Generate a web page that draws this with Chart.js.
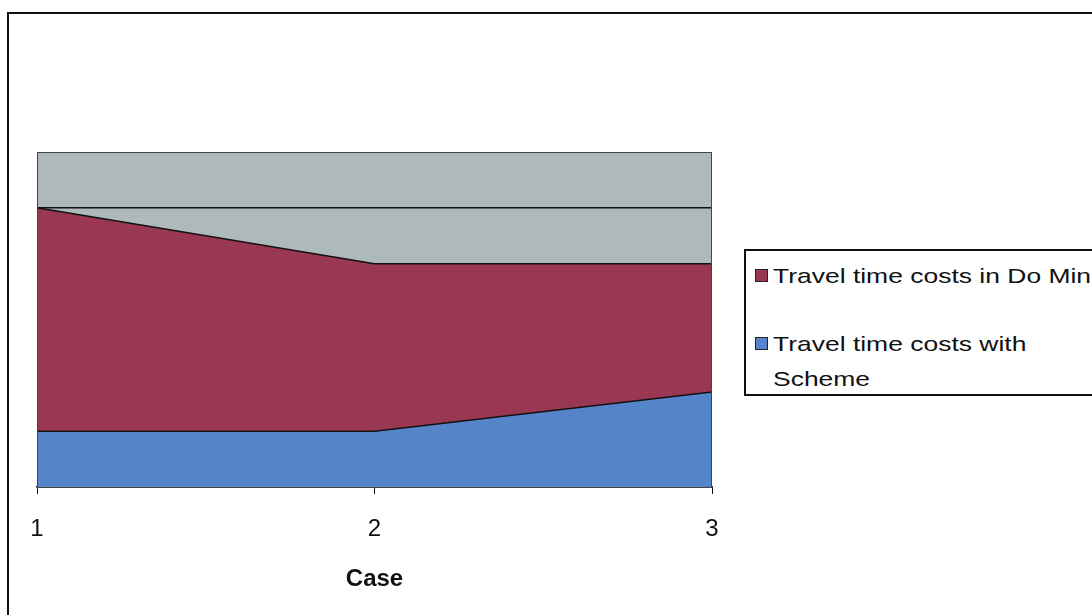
<!DOCTYPE html>
<html>
<head>
<meta charset="utf-8">
<script src="https://cdn.jsdelivr.net/npm/chart.js@4/dist/chart.umd.min.js"></script>
<style>
  html, body { margin: 0; padding: 0; background: #ffffff; }
  #wrap { position: relative; width: 1092px; height: 615px; overflow: hidden; }
  #frame { position: absolute; left: 7px; top: 12px; width: 1110px; height: 620px;
           border: 2px solid #111; box-sizing: border-box; }
  canvas { position: absolute; left: 0; top: 0; }
  #legend { position: absolute; left: 744px; top: 249px; width: 400px; height: 147px;
            border: 2px solid #111; box-sizing: border-box; background: #fff;
            font-family: "Liberation Sans", Arial, sans-serif; font-size: 21px; color: #111; }
  .item { position: absolute; left: 9px; }
  .swatch { position: absolute; left: 0; width: 11px; height: 11px; border: 1.5px solid #222; }
  .txt { position: absolute; left: 18px; white-space: nowrap; line-height: 35px;
         transform: scaleX(1.26); transform-origin: left center; }
</style>
</head>
<body>
<div id="wrap">
  <div id="frame"></div>
  <canvas id="c" width="1092" height="615"></canvas>
  <div id="legend"></div>
</div>
<script>
// Categories and series values
const cases = ['1', '2', '3'];
const withScheme = [1.0, 1.0, 1.7];   // Travel time costs with Scheme
const doMinExtra = [4.0, 3.0, 2.3];   // Travel time costs in Do Min (stacked on top)
const seriesNames = ['Travel time costs in Do Min', 'Travel time costs with Scheme'];
const axisTitle = 'Case';

const colors = { grey: '#adb9ba', red: '#9a3752', blue: '#5584c9' };

// Grey plot background and thin frame round the plot area
const plotFrame = {
  id: 'plotFrame',
  beforeDraw(chart) {
    const { ctx, chartArea: a } = chart;
    ctx.save();
    ctx.fillStyle = colors.grey;
    ctx.fillRect(a.left, a.top, a.right - a.left, a.bottom - a.top);
    ctx.restore();
  },
  afterDatasetsDraw(chart) {
    const { ctx, chartArea: a } = chart;
    ctx.save();
    ctx.strokeStyle = '#444';
    ctx.lineWidth = 1;
    ctx.strokeRect(a.left + 0.5, a.top + 0.5, a.right - a.left - 1, a.bottom - a.top);
    ctx.restore();
  }
};

const chart = new Chart(document.getElementById('c'), {
  type: 'line',
  data: {
    labels: cases,
    datasets: [
      { label: seriesNames[1], data: withScheme, backgroundColor: colors.blue,
        borderColor: '#111', borderWidth: 1.5, fill: 'origin', pointRadius: 0, tension: 0 },
      { label: seriesNames[0], data: doMinExtra, backgroundColor: colors.red,
        borderColor: '#111', borderWidth: 1.5, fill: '-1', pointRadius: 0, tension: 0 }
    ]
  },
  options: {
    responsive: false,
    animation: false,
    layout: { padding: { left: 37, right: 380, top: 152, bottom: 0 } },
    plugins: { legend: { display: false }, tooltip: { enabled: false } },
    scales: {
      x: {
        offset: false,
        grid: { drawOnChartArea: false, drawTicks: true, tickLength: 7, color: '#111' },
        border: { display: true, color: '#111', width: 1.5 },
        ticks: { color: '#111', padding: 21, maxRotation: 0,
                 font: { family: 'Liberation Sans', size: 24 } },
        title: { display: true, text: axisTitle, color: '#111',
                 font: { family: 'Liberation Sans', size: 24, weight: 'bold' },
                 padding: { top: 0, bottom: 21 } },
        afterFit(s) { s.height = 128; }
      },
      y: {
        stacked: true,
        min: 0, max: 6,
        ticks: { display: false, stepSize: 1 },
        grid: { drawTicks: false, lineWidth: 1.5,
                color: c => (c.tick && c.tick.value === 5) ? '#111' : 'rgba(0,0,0,0)' },
        border: { display: false },
        afterFit(s) { s.width = 0; }
      }
    }
  },
  plugins: [plotFrame]
});

// Legend box at the right of the plot
const legend = document.getElementById('legend');
const entries = [
  { color: colors.red, top: 7, lines: [seriesNames[0]] },
  { color: colors.blue, top: 75, lines: ['Travel time costs with', 'Scheme'] }
];
entries.forEach(e => {
  const item = document.createElement('div');
  item.className = 'item';
  item.style.top = e.top + 'px';
  const sw = document.createElement('div');
  sw.className = 'swatch';
  sw.style.background = e.color;
  sw.style.top = '11px';
  item.appendChild(sw);
  e.lines.forEach((ln, i) => {
    const t = document.createElement('div');
    t.className = 'txt';
    t.style.top = (i * 35) + 'px';
    t.textContent = ln;
    item.appendChild(t);
  });
  legend.appendChild(item);
});
</script>
</body>
</html>
